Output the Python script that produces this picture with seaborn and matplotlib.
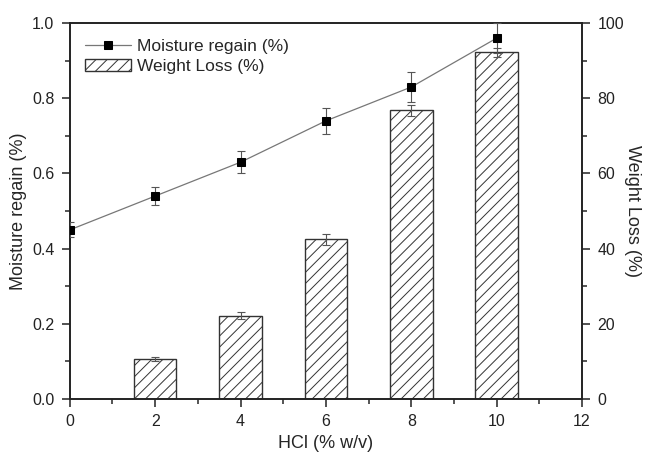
import numpy as np
import pandas as pd
import matplotlib
matplotlib.use("Agg")
import matplotlib.pyplot as plt
import seaborn as sns
from matplotlib.ticker import MultipleLocator

# Data
hcl_line = [0, 2, 4, 6, 8, 10]
moisture = [0.45, 0.54, 0.63, 0.74, 0.83, 0.96]
moisture_err = [0.02, 0.025, 0.03, 0.035, 0.04, 0.04]

hcl_bar = [2, 4, 6, 8, 10]
weight_loss = [10.6, 22.2, 42.5, 76.8, 92.3]
weight_loss_err = [0.5, 1.0, 1.5, 1.5, 1.2]

sns.set_style("ticks")
plt.rcParams['font.family'] = ['Liberation Sans', 'DejaVu Sans']
plt.rcParams['hatch.color'] = '#666666'
plt.rcParams['hatch.linewidth'] = 0.7

fig = plt.figure(figsize=(6.46, 4.53), dpi=100)
ax = fig.add_axes([0.108, 0.119, 0.793, 0.830])
ax2 = ax.twinx()

# Weight loss bars (right axis)
bars = pd.DataFrame({"HCl": hcl_bar, "WL": weight_loss})
sns.barplot(data=bars, x="HCl", y="WL", native_scale=True, width=0.5,
            color="white", edgecolor="#333333", linewidth=1.0, ax=ax2,
            errorbar=None, label="Weight Loss (%)")
for p in ax2.patches:
    p.set_hatch("///")
ax2.errorbar(hcl_bar, weight_loss, yerr=weight_loss_err, fmt="none",
             ecolor="#555555", elinewidth=0.8, capsize=3, capthick=0.8)

# Moisture regain line (left axis)
line = pd.DataFrame({"HCl": hcl_line, "MR": moisture})
ax.errorbar(hcl_line, moisture, yerr=moisture_err, fmt="none",
            ecolor="#555555", elinewidth=0.8, capsize=3, capthick=0.8, zorder=3)
sns.lineplot(data=line, x="HCl", y="MR", ax=ax, color="#777777", lw=0.9,
             marker="s", markersize=5.5, markerfacecolor="black",
             markeredgecolor="black", label="Moisture regain (%)", zorder=4)

ax.set_zorder(ax2.get_zorder() + 1)
ax.patch.set_visible(False)

ax.set_xlim(0, 12)
ax.set_ylim(0, 1.0)
ax2.set_ylim(0, 100)
ax.xaxis.set_major_locator(MultipleLocator(2))
ax.xaxis.set_minor_locator(MultipleLocator(1))
ax.yaxis.set_major_locator(MultipleLocator(0.2))
ax.yaxis.set_minor_locator(MultipleLocator(0.1))
ax2.yaxis.set_major_locator(MultipleLocator(20))
ax2.yaxis.set_minor_locator(MultipleLocator(10))
ax.yaxis.set_major_formatter(matplotlib.ticker.FormatStrFormatter("%.1f"))

for a in (ax, ax2):
    for s in a.spines.values():
        s.set_visible(True)
        s.set_linewidth(1.2)
        s.set_color("#222222")
    a.tick_params(which="major", direction="out", length=6, width=1.1,
                  labelsize=11.5, colors="#222222", pad=5)
    a.tick_params(which="minor", direction="out", length=3.5, width=1.1)
ax.tick_params(axis="x", top=False, which="both")

ax.set_xlabel("HCl (% w/v)", fontsize=13)
ax.set_ylabel("Moisture regain (%)", fontsize=13)
ax2.set_ylabel("Weight Loss (%)", fontsize=13, rotation=270, labelpad=12)
ax2.set_xlabel("")

# legend
h1, l1 = ax.get_legend_handles_labels()
h2, l2 = ax2.get_legend_handles_labels()
if ax2.get_legend():
    ax2.get_legend().remove()
ax.legend(h1 + h2, l1 + l2, loc="upper left", frameon=False, fontsize=12.5,
          handlelength=2.6, borderaxespad=0.5, handletextpad=0.4,
          labelspacing=0.3)

fig.savefig("out.png", dpi=100)
